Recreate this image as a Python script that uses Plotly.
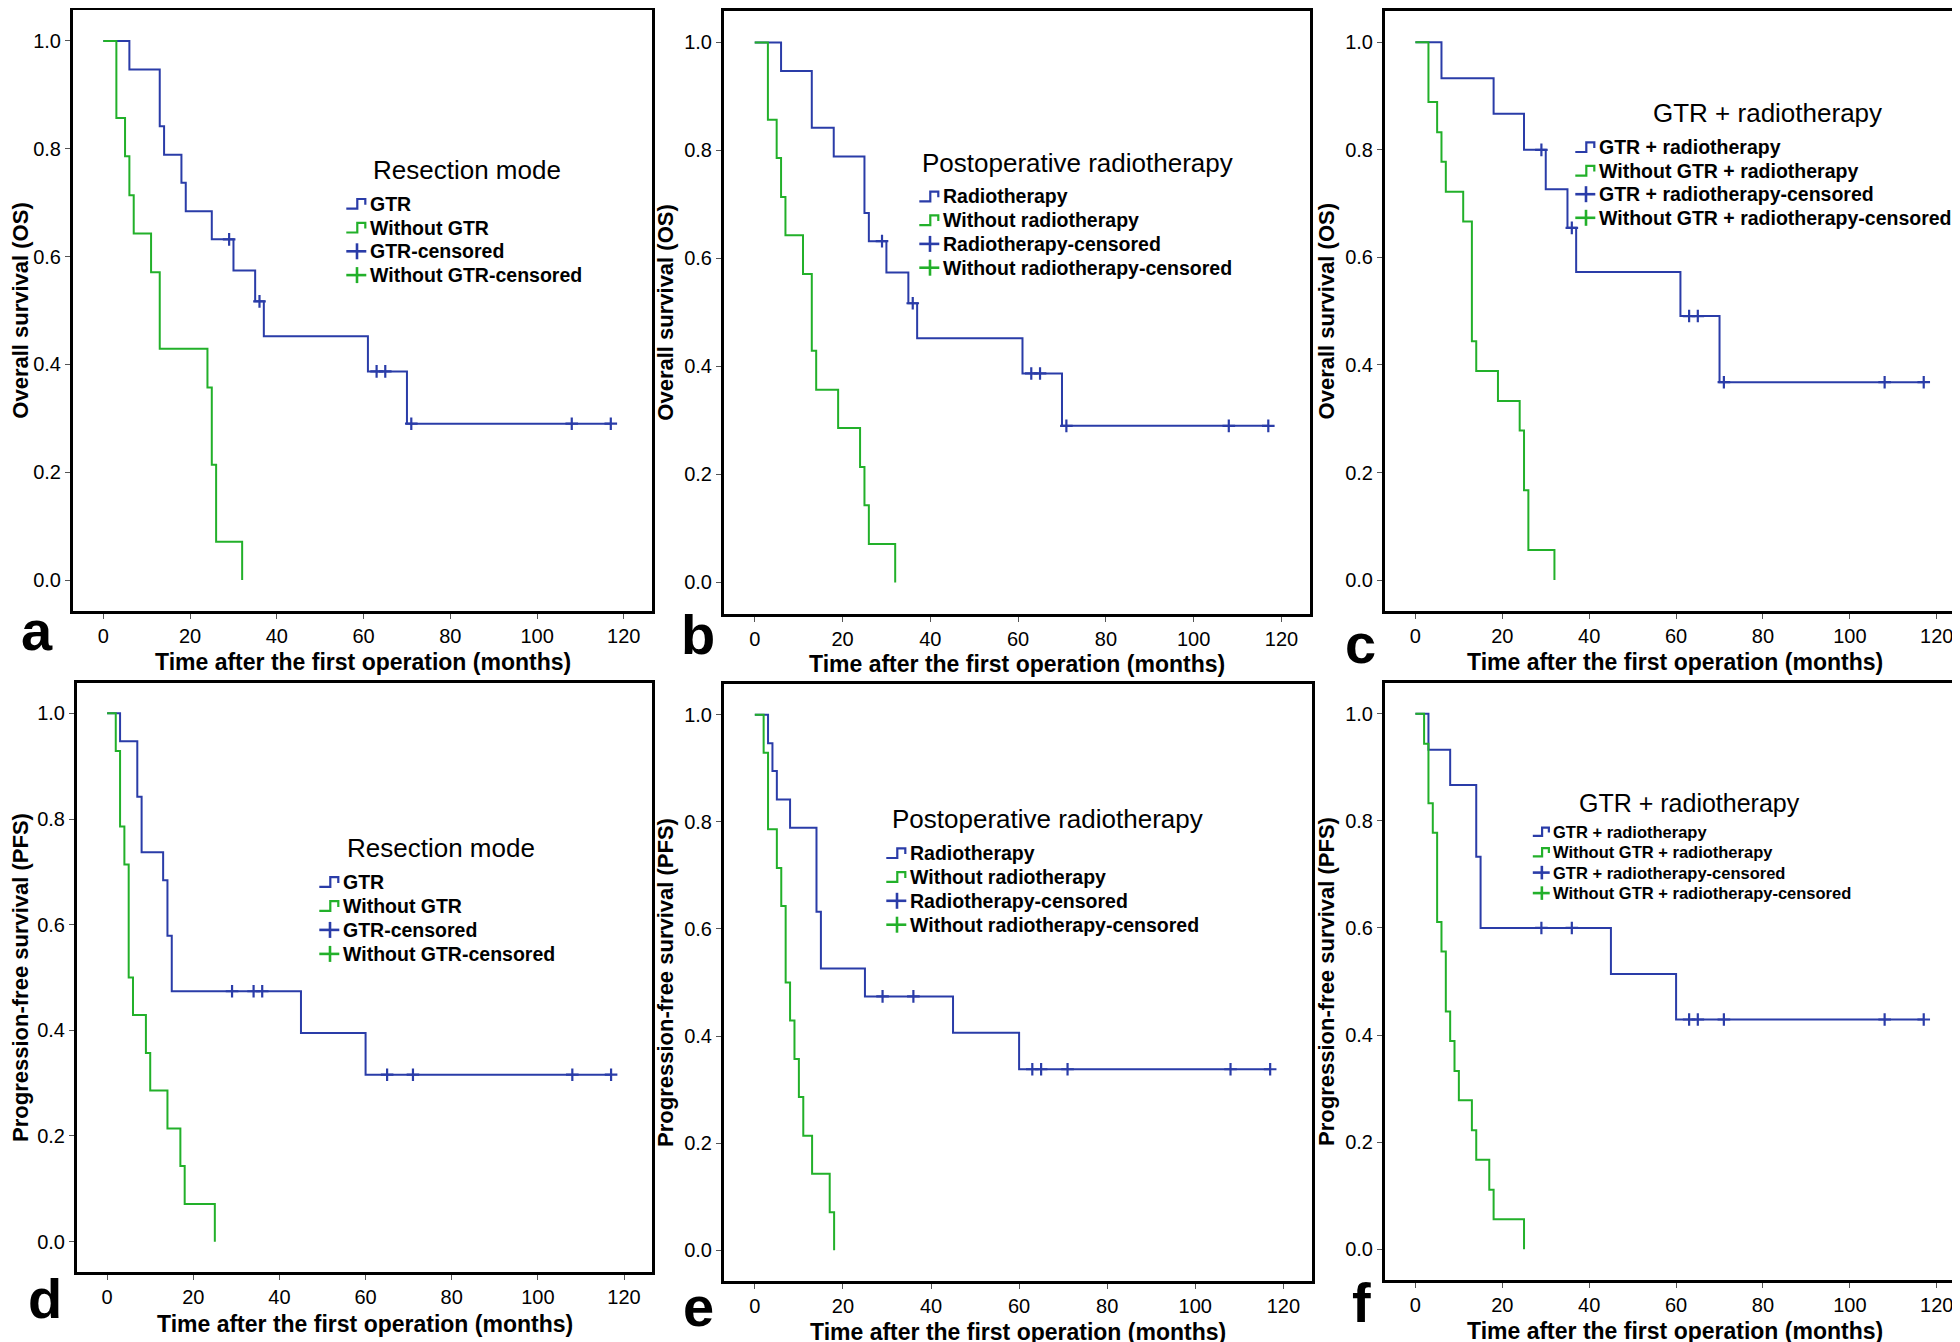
import plotly.graph_objects as go

W, H = 1960, 1342
BLUE = "#2a3ca8"
GREEN = "#22b02a"
FONT = "Liberation Sans, Arial, sans-serif"

x_ticks = [0, 20, 40, 60, 80, 100, 120]
y_ticks = [0.0, 0.2, 0.4, 0.6, 0.8, 1.0]
y_tick_labels = ["0.0", "0.2", "0.4", "0.6", "0.8", "1.0"]
x_title = "Time after the first operation (months)"
os_title = "Overall survival (OS)"
pfs_title = "Progression-free survival (PFS)"

# ---- Panel a: OS by resection mode ----
a_gtr_t = [0, 6, 13, 14, 18, 19, 25, 30, 35, 37, 61, 70, 117]
a_gtr_s = [1.0, 0.947, 0.842, 0.789, 0.737, 0.684, 0.632, 0.574, 0.517, 0.452, 0.387, 0.290, 0.290]
a_gtr_cens = [29, 36, 63, 65, 71, 108, 117]
a_wo_t = [0, 3, 5, 6, 7, 11, 13, 24, 25, 26, 32]
a_wo_s = [1.0, 0.857, 0.786, 0.714, 0.643, 0.571, 0.429, 0.357, 0.214, 0.071, 0.0]

# ---- Panel b: OS by postoperative radiotherapy ----
b_rt_t = [0, 6, 13, 18, 25, 26, 30, 35, 37, 61, 70, 117]
b_rt_s = [1.0, 0.947, 0.842, 0.789, 0.684, 0.632, 0.574, 0.517, 0.452, 0.387, 0.290, 0.290]
b_rt_cens = [29, 36, 63, 65, 71, 108, 117]
b_wo_t = [0, 3, 5, 6, 7, 11, 13, 14, 19, 24, 25, 26, 32]
b_wo_s = [1.0, 0.857, 0.786, 0.714, 0.643, 0.571, 0.429, 0.357, 0.286, 0.214, 0.143, 0.071, 0.0]

# ---- Panel c: OS by GTR + radiotherapy ----
c_gr_t = [0, 6, 18, 25, 30, 35, 37, 61, 70, 117]
c_gr_s = [1.0, 0.933, 0.867, 0.800, 0.727, 0.655, 0.573, 0.491, 0.368, 0.368]
c_gr_cens = [29, 36, 63, 65, 71, 108, 117]
c_wo_t = [0, 3, 5, 6, 7, 11, 13, 14, 19, 24, 25, 26, 32]
c_wo_s = [1.0, 0.889, 0.833, 0.778, 0.722, 0.667, 0.444, 0.389, 0.333, 0.278, 0.167, 0.056, 0.0]

# ---- Panel d: PFS by resection mode ----
d_gtr_t = [0, 3, 7, 8, 13, 14, 15, 45, 60, 117]
d_gtr_s = [1.0, 0.947, 0.842, 0.737, 0.684, 0.579, 0.474, 0.395, 0.316, 0.316]
d_gtr_cens = [29, 34, 36, 65, 71, 108, 117]
d_wo_t = [0, 2, 3, 4, 5, 6, 9, 10, 14, 17, 18, 25]
d_wo_s = [1.0, 0.929, 0.786, 0.714, 0.500, 0.429, 0.357, 0.286, 0.214, 0.143, 0.071, 0.0]

# ---- Panel e: PFS by postoperative radiotherapy ----
e_rt_t = [0, 3, 4, 5, 8, 14, 15, 25, 45, 60, 117]
e_rt_s = [1.0, 0.947, 0.895, 0.842, 0.789, 0.632, 0.526, 0.474, 0.406, 0.338, 0.338]
e_rt_cens = [29, 36, 63, 65, 71, 108, 117]
e_wo_t = [0, 2, 3, 5, 6, 7, 8, 9, 10, 11, 13, 17, 18]
e_wo_s = [1.0, 0.929, 0.786, 0.714, 0.643, 0.500, 0.429, 0.357, 0.286, 0.214, 0.143, 0.071, 0.0]

# ---- Panel f: PFS by GTR + radiotherapy ----
f_gr_t = [0, 3, 8, 14, 15, 45, 60, 117]
f_gr_s = [1.0, 0.933, 0.867, 0.733, 0.600, 0.514, 0.429, 0.429]
f_gr_cens = [29, 36, 63, 65, 71, 108, 117]
f_wo_t = [0, 2, 3, 4, 5, 6, 7, 8, 9, 10, 13, 14, 17, 18, 25]
f_wo_s = [1.0, 0.944, 0.833, 0.778, 0.611, 0.556, 0.444, 0.389, 0.333, 0.278, 0.222, 0.167, 0.111, 0.056, 0.0]

names_resect = ["GTR", "Without GTR", "GTR-censored", "Without GTR-censored"]
names_rt = ["Radiotherapy", "Without radiotherapy", "Radiotherapy-censored", "Without radiotherapy-censored"]
names_gr = ["GTR + radiotherapy", "Without GTR + radiotherapy", "GTR + radiotherapy-censored",
            "Without GTR + radiotherapy-censored"]


def step_at(ts, ss, t):
    v = ss[0]
    for ti, si in zip(ts, ss):
        if ti <= t:
            v = si
    return v


# geometry in pixels
# box: (left, right, top, bottom) of plot frame
# leg: (text_x, first_row_y, row_gap, title_cx, title_cy, item_font)
# xt: vertical centre of the x-axis title
panels = [
    dict(letter="a", t1=a_gtr_t, s1=a_gtr_s, c1=a_gtr_cens, t2=a_wo_t, s2=a_wo_s, names=names_resect,
         ytitle=os_title, ltitle="Resection mode", box=(65, 644, 2, 603),
         leg=(361, 195.7, 23.8, 459, 162, 19.5), lab=(29, 622), xt=654.5),
    dict(letter="b", t1=b_rt_t, s1=b_rt_s, c1=b_rt_cens, t2=b_wo_t, s2=b_wo_s, names=names_rt,
         ytitle=os_title, ltitle="Postoperative radiotherapy", box=(716, 1302, 3.4, 605.5),
         leg=(934, 188.3, 23.8, 1069, 155, 19.5), lab=(690, 626), xt=655.5),
    dict(letter="c", t1=c_gr_t, s1=c_gr_s, c1=c_gr_cens, t2=c_wo_t, s2=c_wo_s, names=names_gr,
         ytitle=os_title, ltitle="GTR + radiotherapy", box=(1377, 1957, 3.4, 603),
         leg=(1590, 139, 23.6, 1759, 104.5, 19.5), lab=(1352, 635), xt=653.5),
    dict(letter="d", t1=d_gtr_t, s1=d_gtr_s, c1=d_gtr_cens, t2=d_wo_t, s2=d_wo_s, names=names_resect,
         ytitle=pfs_title, ltitle="Resection mode", box=(69, 644, 675, 1264),
         leg=(334, 873.9, 24.0, 433, 839.5, 19.5), lab=(37, 1290), xt=1316),
    dict(letter="e", t1=e_rt_t, s1=e_rt_s, c1=e_rt_cens, t2=e_wo_t, s2=e_wo_s, names=names_rt,
         ytitle=pfs_title, ltitle="Postoperative radiotherapy", box=(716, 1304, 676, 1273),
         leg=(901, 845, 23.9, 1039.5, 810.5, 19.5), lab=(690, 1298), xt=1324),
    dict(letter="f", t1=f_gr_t, s1=f_gr_s, c1=f_gr_cens, t2=f_wo_t, s2=f_wo_s, names=names_gr,
         ytitle=pfs_title, ltitle="GTR + radiotherapy", box=(1377, 1957, 675, 1272),
         leg=(1544, 823.6, 20.5, 1681.5, 794.5, 16.5), lab=(1353, 1294), xt=1323),
]


def px(x):
    return x / W


def py(y):
    return 1 - y / H


fig = go.Figure()
layout = dict(
    width=W, height=H,
    margin=dict(l=0, r=0, t=0, b=0),
    paper_bgcolor="white", plot_bgcolor="white",
    font=dict(family=FONT, color="black"),
    showlegend=False,
    annotations=[],
    shapes=[],
)

for i, p in enumerate(panels):
    n = i + 1
    sfx = "" if n == 1 else str(n)
    xa, ya = "x" + sfx, "y" + sfx
    cens_y = [step_at(p["t1"], p["s1"], c) for c in p["c1"]]

    fig.add_trace(go.Scatter(x=p["t1"], y=p["s1"], mode="lines", name=p["names"][0],
                             line=dict(color=BLUE, width=2, shape="hv"), xaxis=xa, yaxis=ya))
    fig.add_trace(go.Scatter(x=p["t2"], y=p["s2"], mode="lines", name=p["names"][1],
                             line=dict(color=GREEN, width=2, shape="hv"), xaxis=xa, yaxis=ya))
    fig.add_trace(go.Scatter(x=p["c1"], y=cens_y, mode="markers", name=p["names"][2],
                             marker=dict(symbol="cross-thin", size=9, line=dict(color=BLUE, width=2.2)),
                             xaxis=xa, yaxis=ya))

    l, r, t, b = p["box"]
    axis_common = dict(showline=True, linecolor="black", linewidth=3, mirror=True,
                       ticks="outside", ticklen=5, tickwidth=1, tickcolor="#555",
                       showgrid=False, zeroline=False,
                       tickfont=dict(family=FONT, size=20, color="black"))
    layout["xaxis" + sfx] = dict(
        axis_common, domain=[px(l), px(r)], range=[-7, 126.5], anchor=ya,
        tickvals=x_ticks,
    )
    layout["yaxis" + sfx] = dict(
        axis_common, domain=[py(b), py(t)], range=[-0.0575, 1.0575], anchor=xa,
        tickvals=y_ticks, ticktext=y_tick_labels,
        title=dict(text=p["ytitle"], font=dict(family=FONT, size=22, weight="bold"), standoff=5),
    )

    # x-axis title, centred under the frame
    layout["annotations"].append(dict(
        text=x_title, xref="paper", yref="paper", x=px((l + r) / 2), y=py(p["xt"]),
        xanchor="center", yanchor="middle", showarrow=False,
        font=dict(family=FONT, size=23, weight="bold", color="black")))

    # legend block (title, step icons for curves, cross icons for censored marks)
    tx, y0, gap, tcx, tcy, fs = p["leg"]
    k = fs / 19.5
    layout["annotations"].append(dict(
        text=p["ltitle"], xref="paper", yref="paper", x=px(tcx), y=py(tcy),
        xanchor="center", yanchor="middle", showarrow=False,
        font=dict(family=FONT, size=26 if fs > 17 else 25, color="black")))
    colors = [BLUE, GREEN, BLUE, GREEN]
    for j in range(4):
        cy = y0 + j * gap
        layout["annotations"].append(dict(
            text=p["names"][j], xref="paper", yref="paper", x=px(tx - 1), y=py(cy),
            xanchor="left", yanchor="middle", showarrow=False,
            font=dict(family=FONT, size=fs, weight="bold", color="black")))
        c = colors[j]
        if j < 2:
            path = "M {:.5f},{:.5f} H {:.5f} V {:.5f} H {:.5f} V {:.5f}".format(
                px(tx - 22.7 * k), py(cy + 5 * k), px(tx - 11.7 * k), py(cy - 4.7 * k),
                px(tx - 3.7 * k), py(cy + 1 * k))
            layout["shapes"].append(dict(type="path", xref="paper", yref="paper", path=path,
                                         line=dict(color=c, width=2.2)))
        else:
            layout["shapes"].append(dict(type="line", xref="paper", yref="paper",
                                         x0=px(tx - 22.7 * k), x1=px(tx - 2.7 * k), y0=py(cy), y1=py(cy),
                                         line=dict(color=c, width=2.6)))
            layout["shapes"].append(dict(type="line", xref="paper", yref="paper",
                                         x0=px(tx - 12 * k), x1=px(tx - 12 * k),
                                         y0=py(cy - 8 * k), y1=py(cy + 8 * k),
                                         line=dict(color=c, width=2.6)))

    lab_x, lab_y = p["lab"]
    layout["annotations"].append(dict(
        text=p["letter"], xref="paper", yref="paper", x=px(lab_x), y=py(lab_y),
        xanchor="center", yanchor="middle", showarrow=False,
        font=dict(family=FONT, size=56, weight="bold", color="black"),
    ))

fig.update_layout(layout)
fig.write_html("out.html")
